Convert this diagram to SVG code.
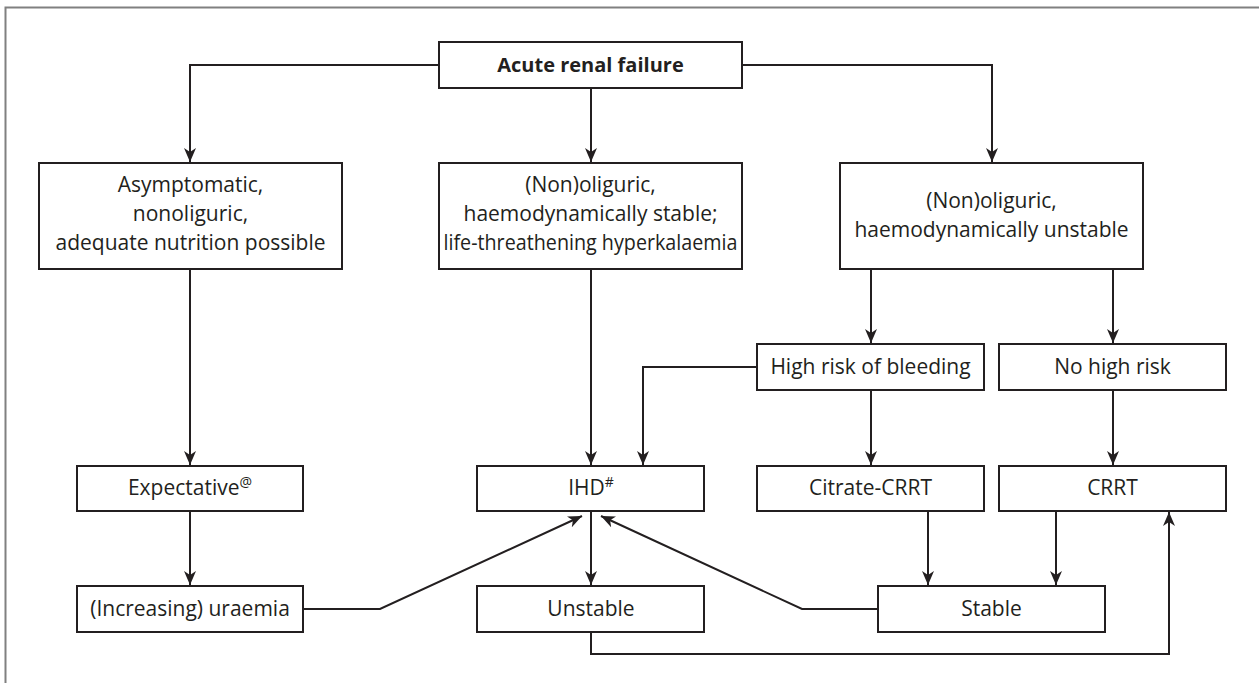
<svg xmlns="http://www.w3.org/2000/svg" width="1259" height="683" viewBox="0 0 1259 683">
<defs>
<marker id="arr" viewBox="0 0 14 12" refX="14" refY="6" markerWidth="14" markerHeight="12" markerUnits="userSpaceOnUse" orient="auto">
<path d="M0,0 L14,6 L0,12 L4,6 z" fill="#231f20"/>
</marker>
<style>
.box{fill:#fff;stroke:#231f20;stroke-width:2}
.t{font-family:"Open Sans","Liberation Sans",sans-serif;font-size:21px;fill:#231f20;text-anchor:middle}
.b{font-weight:bold;font-size:20px}
.c{fill:none;stroke:#231f20;stroke-width:2}
.a{marker-end:url(#arr)}
.sup{font-size:14px}
</style>
</defs>
<rect width="1259" height="683" fill="#fff"/>
<path d="M5.5,683 V7.5 H1259" fill="none" stroke="#808080" stroke-width="2"/>

<g id="connectors">
<path class="c a" d="M439,65 H190 V162"/>
<path class="c a" d="M742,65 H992 V162"/>
<path class="c a" d="M591,88 V162"/>
<path class="c a" d="M190,269 V465"/>
<path class="c a" d="M591,269 V465"/>
<path class="c a" d="M871,269 V343"/>
<path class="c a" d="M1113,269 V343"/>
<path class="c a" d="M757,367 H643 V465"/>
<path class="c a" d="M871,390 V465"/>
<path class="c a" d="M1113,390 V465"/>
<path class="c a" d="M190,511 V585"/>
<path class="c a" d="M591,511 V585"/>
<path class="c a" d="M928,511 V585"/>
<path class="c a" d="M1056,511 V585"/>
<path class="c a" d="M303,609 H380 L582,516"/>
<path class="c a" d="M878,609 H802 L601,516"/>
<path class="c a" d="M591,632 V654 H1169 V512"/>
</g>

<g id="n-arf">
<rect class="box" x="439" y="42" width="303" height="46"/>
<text class="t b" x="590.5" y="72">Acute renal failure</text>
</g>
<g id="n-asym">
<rect class="box" x="39" y="163" width="303" height="106"/>
<text class="t" x="190.5" y="192">Asymptomatic,</text>
<text class="t" x="190.5" y="221">nonoliguric,</text>
<text class="t" x="190.5" y="250">adequate nutrition possible</text>
</g>
<g id="n-stable">
<rect class="box" x="439" y="163" width="303" height="106"/>
<text class="t" x="590.5" y="192">(Non)oliguric,</text>
<text class="t" x="590.5" y="221">haemodynamically stable;</text>
<text class="t" x="590.5" y="250" textLength="294" lengthAdjust="spacingAndGlyphs">life-threathening hyperkalaemia</text>
</g>
<g id="n-unstable">
<rect class="box" x="840" y="163" width="303" height="106"/>
<text class="t" x="991.5" y="208">(Non)oliguric,</text>
<text class="t" x="991.5" y="237">haemodynamically unstable</text>
</g>
<g id="n-highrisk">
<rect class="box" x="757" y="344" width="227" height="46"/>
<text class="t" x="870.5" y="374">High risk of bleeding</text>
</g>
<g id="n-nohighrisk">
<rect class="box" x="999" y="344" width="227" height="46"/>
<text class="t" x="1112.5" y="374">No high risk</text>
</g>
<g id="n-expectative">
<rect class="box" x="77" y="466" width="226" height="45"/>
<text class="t" x="190" y="495">Expectative<tspan class="sup" dy="-8">@</tspan></text>
</g>
<g id="n-ihd">
<rect class="box" x="477" y="466" width="227" height="45"/>
<text class="t" x="591" y="495">IHD<tspan class="sup" dy="-8">#</tspan></text>
</g>
<g id="n-citrate">
<rect class="box" x="757" y="466" width="227" height="45"/>
<text class="t" x="870.5" y="495">Citrate-CRRT</text>
</g>
<g id="n-crrt">
<rect class="box" x="999" y="466" width="227" height="45"/>
<text class="t" x="1112.5" y="495">CRRT</text>
</g>
<g id="n-uraemia">
<rect class="box" x="77" y="586" width="226" height="46"/>
<text class="t" x="190" y="616">(Increasing) uraemia</text>
</g>
<g id="n-unstable2">
<rect class="box" x="477" y="586" width="227" height="46"/>
<text class="t" x="591" y="616">Unstable</text>
</g>
<g id="n-stable2">
<rect class="box" x="878" y="586" width="227" height="46"/>
<text class="t" x="991.5" y="616">Stable</text>
</g>
</svg>
